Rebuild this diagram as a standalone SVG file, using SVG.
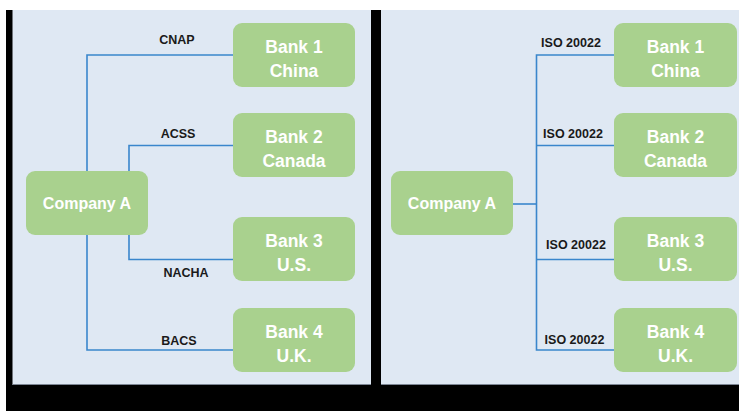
<svg xmlns="http://www.w3.org/2000/svg" width="739" height="411" viewBox="0 0 739 411">
<style>
.panel{fill:#dfe8f3}
.node rect{fill:#a9d18e}
.node text{fill:#ffffff;font-family:"Liberation Sans",Arial,sans-serif;font-weight:bold;font-size:17.5px;text-anchor:middle}
.node text.co{font-size:16px}
.lbl{fill:#1a1a1a;font-family:"Liberation Sans",Arial,sans-serif;font-weight:bold;font-size:12.5px;text-anchor:middle}
.conn{fill:none;stroke:#3a86cc;stroke-width:1.6}
</style>
<rect x="0" y="0" width="739" height="411" fill="#ffffff"/>
<rect x="6" y="10" width="733" height="401" fill="#000000"/>
<rect class="panel" x="12.5" y="10" width="358.5" height="375"/>
<rect class="panel" x="381" y="10" width="358" height="375"/>
<line x1="12.5" y1="384.5" x2="371" y2="384.5" stroke="#7d8694" stroke-width="1"/>
<line x1="381" y1="384.5" x2="739" y2="384.5" stroke="#7d8694" stroke-width="1"/>
<g id="connectors">
<path class="conn" d="M233,55 H87 V350 H233"/>
<path class="conn" d="M233,145.5 H129 V259.5 H233"/>
<path class="conn" d="M513,204 H536.5"/>
<path class="conn" d="M614,55 H536.5 V350 H614"/>
<path class="conn" d="M536.5,145.5 H614"/>
<path class="conn" d="M536.5,259.5 H614"/>
<text class="lbl" x="177" y="44">CNAP</text>
<text class="lbl" x="178" y="137.5">ACSS</text>
<text class="lbl" x="186" y="276.5">NACHA</text>
<text class="lbl" x="179" y="345">BACS</text>
<text class="lbl" x="571" y="47">ISO 20022</text>
<text class="lbl" x="573" y="138">ISO 20022</text>
<text class="lbl" x="576" y="249">ISO 20022</text>
<text class="lbl" x="574.5" y="343.5">ISO 20022</text>
</g>
<g id="companyA-left" class="node"><rect x="26" y="171" width="122" height="64" rx="9"/><text class="co" x="87" y="209">Company A</text></g>
<g id="bank1-left" class="node"><rect x="233" y="23" width="122" height="64" rx="9"/><text x="294" y="52.5">Bank 1</text><text x="294" y="76.5">China</text></g>
<g id="bank2-left" class="node"><rect x="233" y="113" width="122" height="64" rx="9"/><text x="294" y="143">Bank 2</text><text x="294" y="166.5">Canada</text></g>
<g id="bank3-left" class="node"><rect x="233" y="217" width="122" height="64" rx="9"/><text x="294" y="247">Bank 3</text><text x="294" y="270.5">U.S.</text></g>
<g id="bank4-left" class="node"><rect x="233" y="308" width="122" height="64" rx="9"/><text x="294" y="338">Bank 4</text><text x="294" y="361.5">U.K.</text></g>
<g id="companyA-right" class="node"><rect x="391" y="171" width="122" height="64" rx="9"/><text class="co" x="452" y="209">Company A</text></g>
<g id="bank1-right" class="node"><rect x="614" y="23" width="123" height="64" rx="9"/><text x="675.5" y="52.5">Bank 1</text><text x="675.5" y="76.5">China</text></g>
<g id="bank2-right" class="node"><rect x="614" y="113" width="123" height="64" rx="9"/><text x="675.5" y="143">Bank 2</text><text x="675.5" y="166.5">Canada</text></g>
<g id="bank3-right" class="node"><rect x="614" y="217" width="123" height="64" rx="9"/><text x="675.5" y="247">Bank 3</text><text x="675.5" y="270.5">U.S.</text></g>
<g id="bank4-right" class="node"><rect x="614" y="308" width="123" height="64" rx="9"/><text x="675.5" y="338">Bank 4</text><text x="675.5" y="361.5">U.K.</text></g>
</svg>
